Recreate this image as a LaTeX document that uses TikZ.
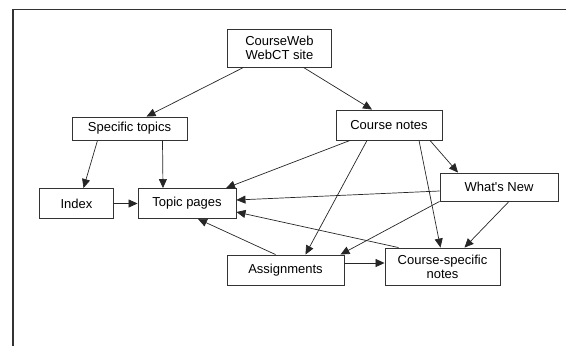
\documentclass[tikz,border=0pt]{standalone}
\usepackage{fontspec}
\setmainfont{Liberation Sans}
\usetikzlibrary{arrows.meta}

\begin{document}
\begin{tikzpicture}[x=1pt, y=-1pt,
		box/.style={draw=black!80, line width=0.9pt, inner sep=0pt, align=center,
				font=\fontsize{13}{14}\selectfont},
		link/.style={draw=black!85, line width=0.7pt, -{Triangle[length=9pt,width=8pt]}}]
		\useasboundingbox (0, 0) rectangle (566, 346);

		% frame of the page
		\draw[black!80, line width=1.2pt] (13, 346) -- (13, 9.5) -- (566, 9.5);

		\node[box, minimum width=104pt, minimum height=38pt] (web) at (279.5, 48) {CourseWeb\\WebCT site};
		\node[box, minimum width=115pt, minimum height=23pt] (topics) at (129.5, 128.5) {Specific topics};
		\node[box, minimum width=106pt, minimum height=30pt] (notes) at (389, 125) {Course notes};
		\node[box, minimum width=74pt, minimum height=30pt] (index) at (76.5, 203.5) {Index};
		\node[box, minimum width=98pt, minimum height=30pt] (pages) at (187, 203.5) {Topic pages};
		\node[box, minimum width=118pt, minimum height=28pt] (new) at (499, 187) {What\textquotesingle s New};
		\node[box, minimum width=117pt, minimum height=30pt] (assign) at (285.5, 270) {Assignments};
		\node[box, minimum width=115pt, minimum height=37pt] (csnotes) at (442.5, 266.5) {Course-specific\\notes};

		\draw[link] ([xshift=-36pt]web.south) -- ([xshift=17pt]topics.north);
		\draw[link] ([xshift=24pt]web.south) -- ([xshift=-17pt]notes.north);

		\draw[link] ([xshift=-32pt]topics.south) -- ([xshift=7pt]index.north);
		\draw[link] ([xshift=33pt]topics.south) -- ([xshift=-24pt]pages.north);
		\draw[link] (index.east) -- (pages.west);

		\draw[link] ([xshift=-39pt]notes.south) -- ([xshift=39pt]pages.north);
		\draw[link] ([xshift=-22pt]notes.south) -- ([xshift=20pt]assign.north);
		\draw[link] ([xshift=30pt]notes.south) -- ([xshift=-2pt]csnotes.north);
		\draw[link] ([xshift=41pt]notes.south) -- ([xshift=-41pt]new.north);

		\draw[link] ([yshift=-4pt]new.west) -- ([yshift=3.5pt]pages.east);
		\draw[link] (new.south west) -- ([xshift=55pt]assign.north);
		\draw[link] ([xshift=10pt]new.south) -- ([xshift=22pt]csnotes.north);

		\draw[link] ([xshift=-10pt]assign.north) -- ([xshift=11pt]pages.south);
		\draw[link] ([xshift=-44pt]csnotes.north) -- ([yshift=-8.5pt]pages.east);
		\coordinate (aout) at ([yshift=7pt]assign.east);
		\draw[link] (aout) -- (csnotes.west |- aout);
	\end{tikzpicture}
\end{document}
